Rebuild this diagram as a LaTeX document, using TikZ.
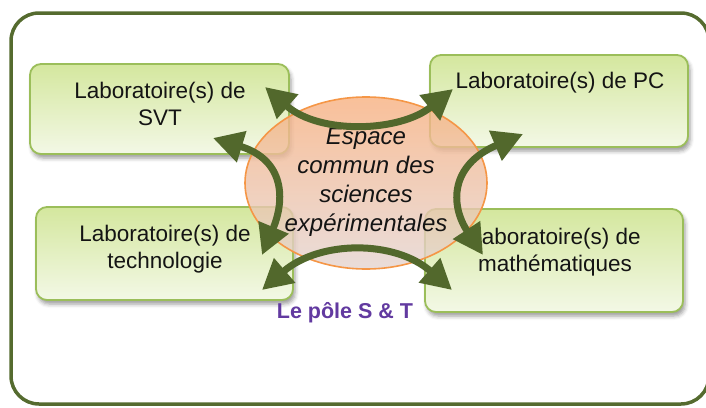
\documentclass[tikz,border=0pt]{standalone}
\usepackage{fontspec}
\setmainfont{Liberation Sans}
\usetikzlibrary{arrows.meta,shadows.blur,shapes.geometric}
\definecolor{framegreen}{RGB}{85,107,47}
\definecolor{arrowgreen}{RGB}{82,104,44}
\definecolor{boxborder}{RGB}{155,190,90}
\definecolor{boxtop}{RGB}{212,231,158}
\definecolor{boxbot}{RGB}{243,248,230}
\definecolor{elltop}{RGB}{247,176,128}
\definecolor{ellbot}{RGB}{228,212,208}
\definecolor{ellborder}{RGB}{245,150,70}
\definecolor{polepurple}{RGB}{98,58,160}
\definecolor{textblack}{RGB}{20,20,20}
\begin{document}
\begin{tikzpicture}[x=1pt,y=-1pt,
  labbox/.style={draw=boxborder, line width=1.8pt, rounded corners=11pt,
    top color=boxtop, bottom color=boxbot, inner sep=0pt,
    blur shadow={shadow xshift=2pt, shadow yshift=-4pt, shadow blur radius=4pt, shadow opacity=40}},
  labtext/.style={font=\fontsize{22.5}{26.5}\selectfont, text=textblack, align=center, inner sep=0pt, anchor=north},
  espace/.style={ellipse, draw=ellborder, line width=1.6pt, top color=elltop, bottom color=ellbot,
    fill opacity=0.8, inner sep=0pt},
  espacetext/.style={font=\fontsize{24}{29}\selectfont\itshape, text=textblack, align=center, inner sep=0pt, anchor=north},
  poletext/.style={font=\fontsize{21.5}{25}\selectfont\bfseries, text=polepurple, inner sep=0pt, anchor=base},
  link/.style={draw=arrowgreen, line width=7pt,
    {Triangle[length=30pt,width=31pt]}-{Triangle[length=30pt,width=31pt]}},
]
\useasboundingbox (0,0) rectangle (706,407);
% outer frame
\draw[framegreen, line width=3.5pt, rounded corners=28pt] (11,13) rectangle (709,404);

% boxes
\node[labbox, minimum width=259pt, minimum height=90pt] (svt) at (159.5,109) {};
\node[labbox, minimum width=258pt, minimum height=92pt] (pc) at (559,101) {};
\node[labbox, minimum width=257pt, minimum height=93pt] (tech) at (164.5,253.5) {};
\node[labbox, minimum width=258pt, minimum height=103pt] (math) at (554,260.5) {};

% common space
\node[espace, minimum width=242pt, minimum height=172pt] (esp) at (366,183) {};

% texts
\node[labtext] (svtt) at (160,82) {Laboratoire(s) de\\SVT};
\node[labtext] (pct) at (560,72) {Laboratoire(s) de PC};
\node[labtext] (techt) at (165,225) {Laboratoire(s) de\\technologie};
\node[labtext] (matht) at (555,228) {Laboratoire(s) de\\mathématiques};
\node[espacetext] (espt) at (366,128) {Espace\\commun des\\sciences\\expérimentales};
\node[poletext] (pole) at (345,318) {Le pôle S \& T};

% connector ends
\coordinate (a1s) at (265,87);
\coordinate (a1e) at (453,89);
\coordinate (a2s) at (213,138);
\coordinate (a2e) at (262,255);
\coordinate (a3s) at (262,290);
\coordinate (a3e) at (452,290);
\coordinate (a4s) at (523,134);
\coordinate (a4e) at (483,255);

% connectors
\draw[link] (a1s) .. controls (320,135) and (400,132) .. (a1e);
\draw[link] (a2s) .. controls (285,160) and (285,200) .. (a2e);
\draw[link] (a3s) .. controls (320,240) and (395,240) .. (a3e);
\draw[link] (a4s) .. controls (450,165) and (450,205) .. (a4e);
\end{tikzpicture}
\end{document}
